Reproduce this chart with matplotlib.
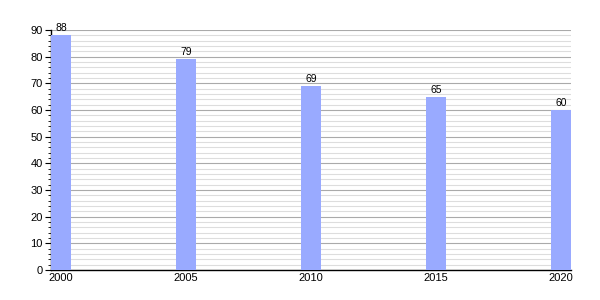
import matplotlib
matplotlib.use("Agg")
import matplotlib.pyplot as plt
from matplotlib.ticker import MultipleLocator

years = [2000, 2005, 2010, 2015, 2020]
values = [88, 79, 69, 65, 60]

plt.rcParams['font.family'] = ['Liberation Sans', 'DejaVu Sans']
fig = plt.figure(figsize=(6, 3), dpi=100)
ax = fig.add_axes([0.085, 0.1, 0.867, 0.8])

bars = ax.bar(years, values, width=0.8, color='#99aaff', zorder=3)
for x, v in zip(years, values):
    ax.text(x, v + 0.8, str(v), ha='center', va='bottom', fontsize=7.5, zorder=4)

ax.set_xlim(2000 - 0.4, 2020 + 0.4)
ax.set_ylim(0, 90)
ax.yaxis.set_major_locator(MultipleLocator(10))
ax.yaxis.set_minor_locator(MultipleLocator(2))
ax.set_xticks(years)
ax.set_xticklabels([str(y) for y in years])
ax.grid(which='major', axis='y', color='#aaaaaa', linewidth=0.8, zorder=0)
ax.grid(which='minor', axis='y', color='#dddddd', linewidth=0.8, zorder=0)
for s in ['top', 'right']:
    ax.spines[s].set_visible(False)
ax.spines['left'].set_linewidth(1)
ax.spines['bottom'].set_linewidth(1)
ax.tick_params(axis='y', which='major', length=4, labelsize=8, pad=2)
ax.tick_params(axis='y', which='minor', length=2)
ax.tick_params(axis='x', length=0, labelsize=8, pad=2)
fig.savefig('out.png', dpi=100)
